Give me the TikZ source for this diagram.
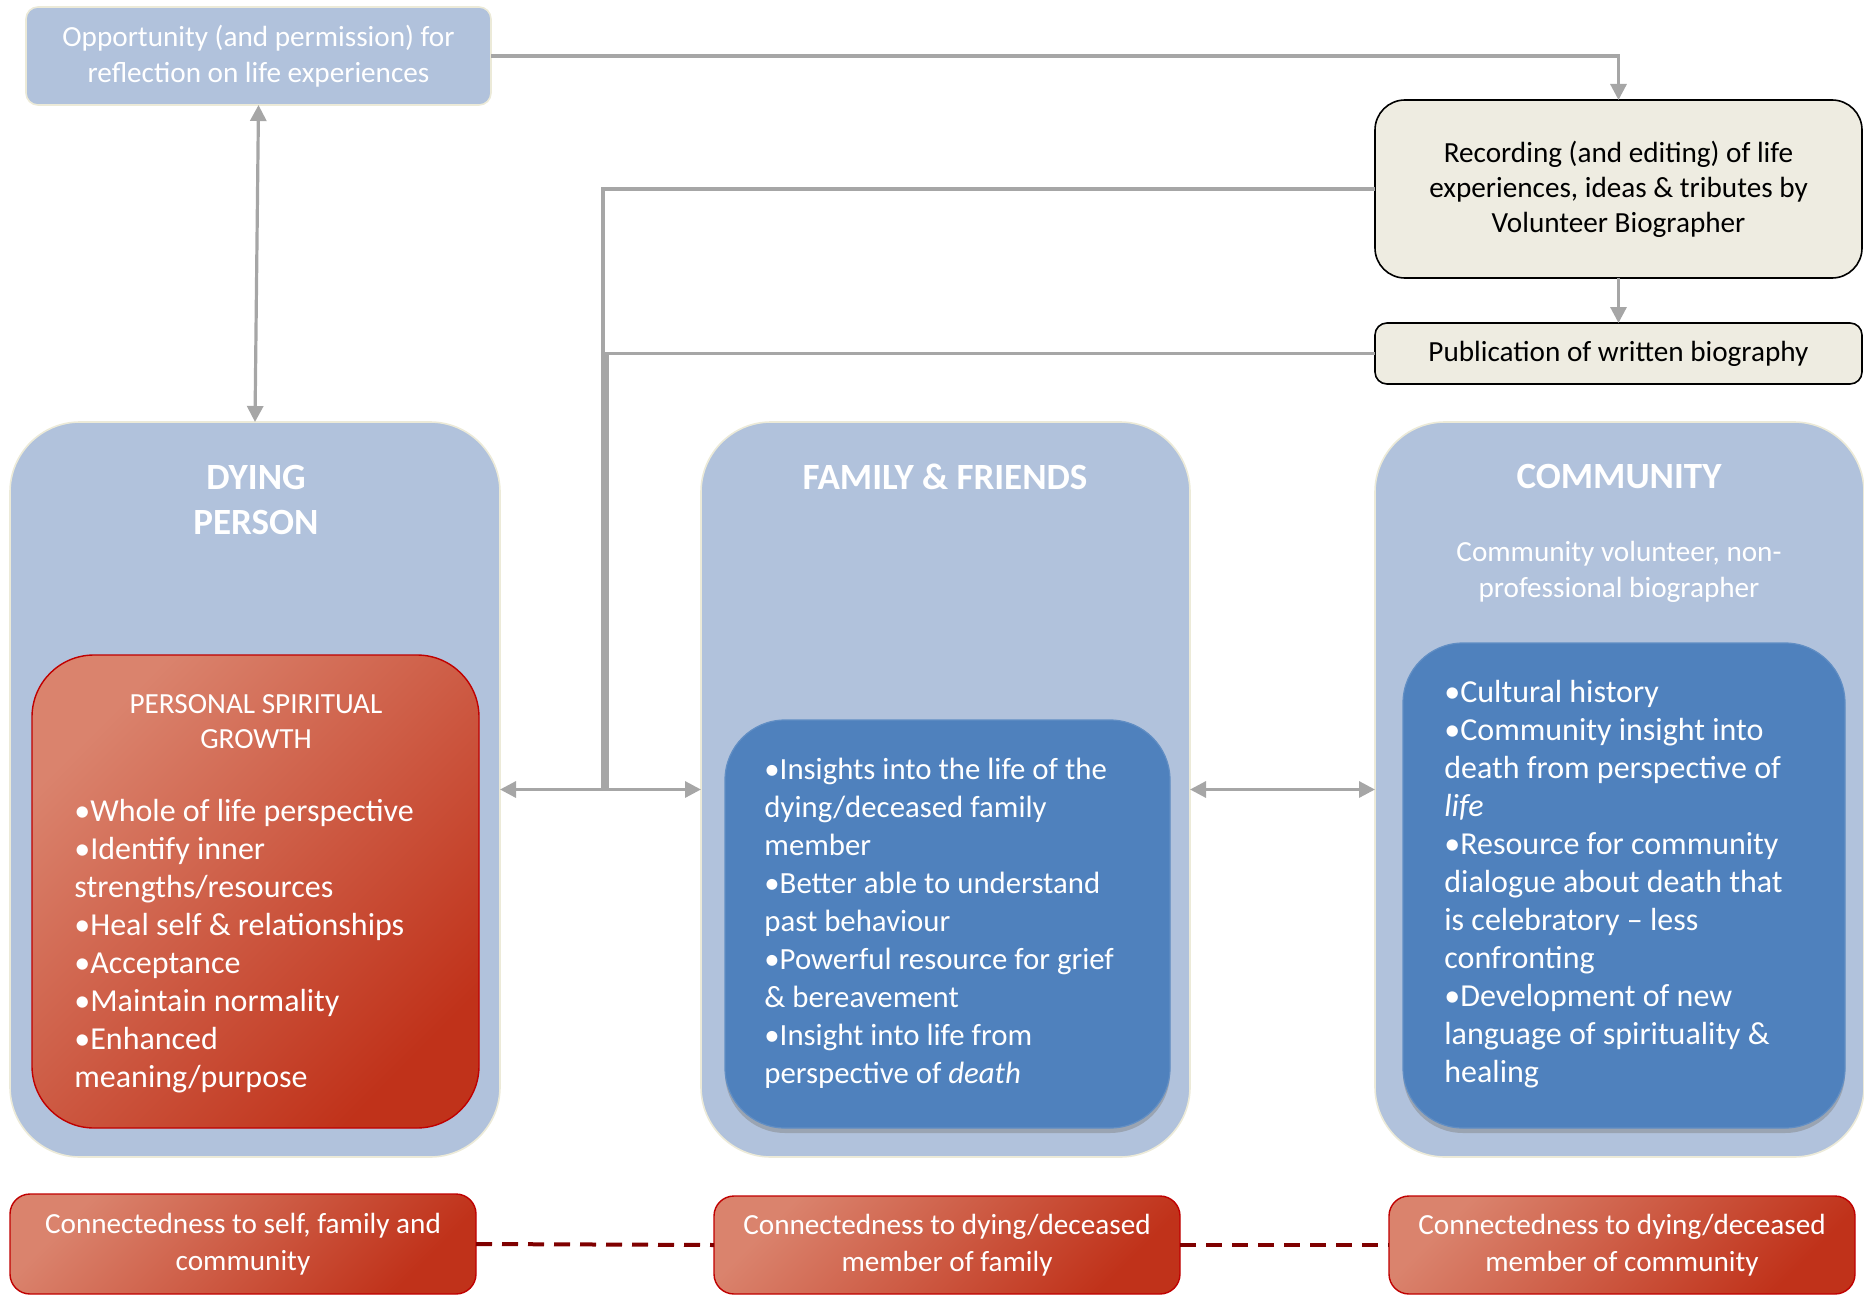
\documentclass[tikz,border=0pt]{standalone}
\usepackage{fontspec}
\setmainfont{Carlito}
\usetikzlibrary{arrows.meta,shadows}
\definecolor{outerblue}{HTML}{B1C2DC}
\definecolor{innerblue}{HTML}{4F81BD}
\definecolor{redlight}{HTML}{DA836D}
\definecolor{reddark}{HTML}{C0321A}
\definecolor{redborder}{HTML}{C00000}
\definecolor{creamfill}{HTML}{EEECE1}
\definecolor{creamline}{HTML}{ECEAD8}
\definecolor{conngray}{HTML}{A6A6A6}
\definecolor{dashred}{HTML}{7F0000}
\tikzset{
  box/.style={rectangle, inner sep=0pt, outer sep=0pt, align=center},
  outerbox/.style={box, fill=outerblue, draw=creamline, line width=0.8pt, rounded corners=35pt},
  oppbox/.style={box, fill=outerblue, draw=creamline, line width=0.8pt, rounded corners=6pt, text=white,
     font=\fontsize{14.6}{18}\selectfont},
  creambox/.style={box, fill=creamfill, draw=black, line width=0.8pt, text=black,
     font=\fontsize{14.6}{17.5}\selectfont},
  redbox/.style={box, draw=redborder, line width=0.7pt, top color=redlight, bottom color=reddark,
     shading angle=45, text=white},
  bluebox/.style={box, fill=innerblue, draw=innerblue!90!white, line width=0.6pt, rounded corners=30pt,
     drop shadow={shadow xshift=0pt, shadow yshift=-2.5pt, opacity=0.45}},
  titletext/.style={inner sep=0pt, align=center, text=white, font=\fontsize{18.5}{22.5}\selectfont\bfseries},
  plaintext/.style={inner sep=0pt, align=center, text=white, font=\fontsize{14.6}{18}\selectfont},
  bullettext/.style={inner sep=0pt, align=left, text=white, anchor=west},
  conn/.style={draw=conngray, line width=1.6pt},
  arr/.style={conn, -{Triangle[length=8pt,width=8pt]}},
  dblarr/.style={conn, {Triangle[length=8pt,width=8pt]}-{Triangle[length=8pt,width=8pt]}},
  dashconn/.style={draw=dashred, line width=2pt, dash pattern=on 8pt off 5pt},
  bottombox/.style={redbox, rounded corners=10pt, font=\fontsize{14.6}{18.25}\selectfont}
}
\begin{document}
\begin{tikzpicture}[x=0.5pt, y=-0.5pt]
\useasboundingbox (0,0) rectangle (1864,1295);

% top boxes
\node[oppbox, minimum width=232.5pt, minimum height=49pt] (opp) at (258.5,56)
  {Opportunity (and permission) for\\reflection on life experiences};
\node[creambox, rounded corners=15pt, minimum width=243.5pt, minimum height=89pt] (rec) at (1618.5,189)
  {Recording (and editing) of life\\experiences, ideas \& tributes by\\Volunteer Biographer};
\node[creambox, rounded corners=6pt, minimum width=243.5pt, minimum height=30.5pt] (pub) at (1618.5,353.5)
  {Publication of written biography};

% outer boxes
\node[outerbox, minimum width=245pt, minimum height=367.5pt] (dying) at (255,789.5) {};
\node[outerbox, minimum width=244.5pt, minimum height=367.5pt] (family) at (945.5,789.5) {};
\node[outerbox, minimum width=244.5pt, minimum height=367.5pt] (comm) at (1619.5,789.5) {};

\node[titletext] (dyingT) at (256,499.5) {DYING\\PERSON};
\node[titletext] (famT) at (945,477) {FAMILY \& FRIENDS};
\node[titletext] (commT) at (1619,477) {COMMUNITY};
\node[plaintext] (commSub) at (1619,572) {Community volunteer, non-\\professional biographer};

% inner boxes
\node[redbox, rounded corners=31pt, minimum width=223.5pt, minimum height=236.5pt] (dyingIn) at (255.5,891.5) {};
\node[bluebox, minimum width=222.5pt, minimum height=204pt] (famIn) at (947.5,924) {};
\node[bluebox, minimum width=221pt, minimum height=242.5pt] (commIn) at (1624,885.5) {};

\node[plaintext, font=\fontsize{14.6}{17.5}\selectfont] (growthT) at (256,721.5) {PERSONAL SPIRITUAL\\GROWTH};
\node[bullettext, font=\fontsize{16}{19}\selectfont] (dyingB) at (74,946)
  {•Whole of life perspective\\
   •Identify inner\\
   strengths/resources\\
   •Heal self \& relationships\\
   •Acceptance\\
   •Maintain normality\\
   •Enhanced\\
   meaning/purpose};
\node[bullettext, font=\fontsize{15.4}{19}\selectfont] (famB) at (764,923.5)
  {•Insights into the life of the\\
   dying/deceased family\\
   member\\
   •Better able to understand\\
   past behaviour\\
   •Powerful resource for grief\\
   \& bereavement\\
   •Insight into life from\\
   perspective of \textit{death}};
\node[bullettext, font=\fontsize{16}{19}\selectfont] (commB) at (1444,884.5)
  {•Cultural history\\
   •Community insight into\\
   death from perspective of\\
   \textit{life}\\
   •Resource for community\\
   dialogue about death that\\
   is celebratory – less\\
   confronting\\
   •Development of new\\
   language of spirituality \&\\
   healing};

% bottom boxes
\node[bottombox, minimum width=233pt, minimum height=50pt] (b1) at (243,1244)
  {Connectedness to self, family and\\community};
\node[bottombox, minimum width=233pt, minimum height=49pt] (b2) at (947,1245)
  {Connectedness to dying/deceased\\member of family};
\node[bottombox, minimum width=233pt, minimum height=49pt] (b3) at (1622,1245)
  {Connectedness to dying/deceased\\member of community};

% connectors
\coordinate (j1) at (603,789.5);
\coordinate (j2) at (607,789.5);
\draw[arr] (opp.east) -| (rec.north);
\draw[dblarr] (opp.south) -- (dying.north);
\draw[arr] (rec.south) -- (pub.north);
\draw[conn] (rec.west) -| (j1);
\draw[conn] (pub.west) -| (j2);
\draw[dblarr] (dying.east) -- (family.west);
\draw[dblarr] (family.east) -- (comm.west);
\draw[dashconn] (b1.east) -- (b2.west);
\draw[dashconn] (b2.east) -- (b3.west);
\end{tikzpicture}
\end{document}
